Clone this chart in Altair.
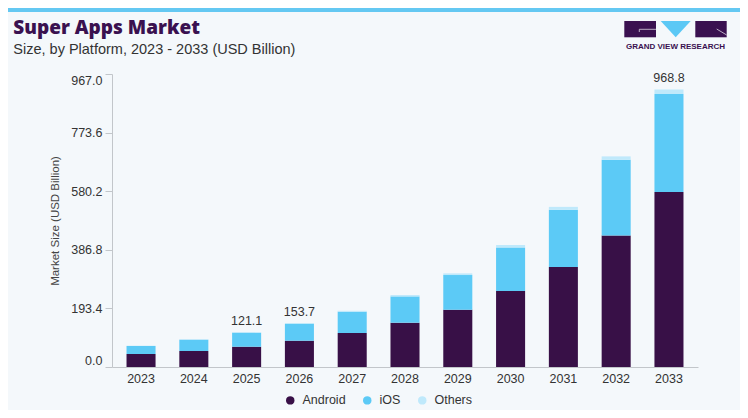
import altair as alt
import pandas as pd

# ---- data ----
years = ["2023", "2024", "2025", "2026", "2027", "2028", "2029", "2030", "2031", "2032", "2033"]
android = [42.9, 52.8, 67.0, 86.8, 112.2, 146.2, 189.0, 250.8, 330.0, 434.3, 577.5]
ios = [26.4, 37.3, 46.2, 56.1, 70.3, 86.8, 114.5, 143.9, 189.0, 249.8, 323.4]
others = [1.0, 1.3, 1.8, 2.3, 3.0, 4.5, 5.5, 8.0, 9.5, 11.0, 15.0]
segments = ["Android", "iOS", "Others"]
bar_labels = ["", "", "121.1", "153.7", "", "", "", "", "", "", "968.8"]
y_ticks = [0.0, 193.4, 386.8, 580.2, 773.6, 967.0]

title_text = "Super Apps Market"
subtitle_text = "Size, by Platform, 2023 - 2033 (USD Billion)"
y_title = "Market Size (USD Billion)"
logo_text = "GRAND VIEW RESEARCH"

colors = ["#381047", "#5ccaf6", "#bfe9fb"]
dark = "#3a1150"
FONT = "Liberation Sans"

rows = []
for i, yr in enumerate(years):
    for k, (seg, vals) in enumerate(zip(segments, [android, ios, others])):
        rows.append({"year": yr, "segment": seg, "value": vals[i], "order": k})
df = pd.DataFrame(rows)

lab = pd.DataFrame({
    "year": years,
    "total": [a + b + c for a, b, c in zip(android, ios, others)],
    "label": bar_labels,
})
lab = lab[lab["label"] != ""]

one = pd.DataFrame({"t": [title_text]})

x_enc = alt.X("year:N", sort=years,
              scale=alt.Scale(paddingInner=0.45, paddingOuter=0.275),
              axis=alt.Axis(title=None, labelAngle=0, ticks=False,
                            domainColor="#c2c6ca", labelFontSize=12.5,
                            labelColor="#333333", labelFont=FONT, labelPadding=5))

bars = alt.Chart(df).mark_bar().encode(
    x=x_enc,
    y=alt.Y("value:Q", stack="zero",
            scale=alt.Scale(domain=[0, 967], nice=False, zero=True),
            axis=alt.Axis(values=y_ticks, format=".1f", labelFlush=True, grid=False,
                          tickSize=7, tickColor="#c2c6ca", domainColor="#c2c6ca",
                          labelFontSize=12.5, labelColor="#333333", labelFont=FONT,
                          labelPadding=3, title=y_title, titleFont=FONT,
                          titleFontSize=11.5, titleFontWeight="normal",
                          titleColor="#444444", titleX=-51.5, titleBaseline="bottom")),
    color=alt.Color("segment:N", sort=segments,
                    scale=alt.Scale(domain=segments, range=colors),
                    legend=alt.Legend(title=None, orient="none", direction="horizontal",
                                      legendX=172, legendY=320, symbolType="circle",
                                      symbolSize=72, symbolStrokeWidth=0,
                                      labelFontSize=12.5, labelFont=FONT,
                                      labelColor="#333333", labelOffset=6,
                                      columnPadding=15, padding=0)),
    order=alt.Order("order:Q", sort="ascending"),
)

labels = alt.Chart(lab).mark_text(baseline="alphabetic", dy=-7.5, fontSize=12.5,
                                  font=FONT, color="#333333").encode(
    x=alt.X("year:N", sort=years),
    y=alt.Y("total:Q"),
    text="label:N",
)

title = alt.Chart(pd.DataFrame({"t": [title_text]})).mark_text(
    align="left", baseline="alphabetic", font="Open Sans", fontWeight=800,
    fontSize=19, color=dark).encode(
    x=alt.value(-98.7), y=alt.value(-39.7), text="t:N")

subtitle = alt.Chart(pd.DataFrame({"t": [subtitle_text]})).mark_text(
    align="left", baseline="alphabetic", font=FONT, fontSize=14.5,
    color="#333333").encode(
    x=alt.value(-98.7), y=alt.value(-20), text="t:N")

stripe = alt.Chart(one).mark_rect(color="#64c8f2").encode(
    x=alt.value(-104), x2=alt.value(628), y=alt.value(-66), y2=alt.value(-62))

logo_l = alt.Chart(one).mark_rect(color=dark).encode(
    x=alt.value(512.3), x2=alt.value(544), y=alt.value(-53), y2=alt.value(-36.7))
logo_r = alt.Chart(one).mark_rect(color=dark).encode(
    x=alt.value(583.3), x2=alt.value(614.7), y=alt.value(-53), y2=alt.value(-36.7))
logo_tri = alt.Chart(one).mark_point(
    shape="M-1,-0.54L1,-0.54L0,0.54Z", filled=True, opacity=1, color="#5bc8f5",
    size=900).encode(x=alt.value(563.7), y=alt.value(-44.8))
line1 = alt.Chart(one).mark_rule(color="#d9d3e0", strokeWidth=0.8).encode(
    x=alt.value(527.3), x2=alt.value(544), y=alt.value(-44.7), y2=alt.value(-44.7))
line2 = alt.Chart(one).mark_rule(color="#d9d3e0", strokeWidth=0.8).encode(
    x=alt.value(527.3), x2=alt.value(527.3), y=alt.value(-44.7), y2=alt.value(-42))
line3 = alt.Chart(one).mark_rule(color="#d9d3e0", strokeWidth=0.8).encode(
    x=alt.value(604.7), x2=alt.value(614.7), y=alt.value(-45), y2=alt.value(-39))
logo_t = alt.Chart(pd.DataFrame({"t": [logo_text]})).mark_text(
    align="center", baseline="alphabetic", font=FONT, fontWeight="bold",
    fontSize=8, color=dark).encode(
    x=alt.value(563.5), y=alt.value(-25), text="t:N")

chart = alt.layer(
    stripe, bars, labels, title, subtitle, logo_l, logo_r, logo_tri,
    line1, line2, line3, logo_t
).properties(
    width=586, height=293,
    padding={"left": 104, "top": 66, "right": 42, "bottom": 43},
    autosize=alt.AutoSizeParams(type="none"),
    background="#f4f8fb",
).configure_view(strokeWidth=0)

chart.save("out.html", embed_options={"renderer": "svg", "actions": False})
